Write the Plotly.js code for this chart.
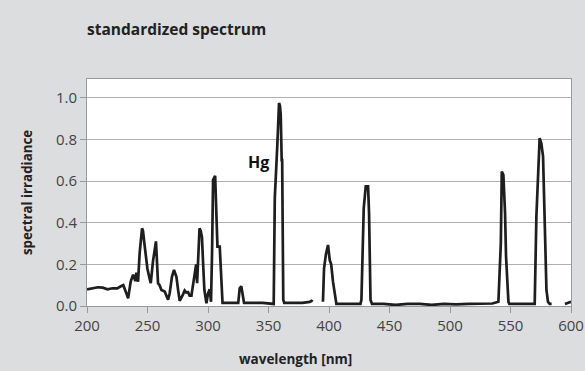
<!DOCTYPE html>
<html>
<head>
<meta charset="utf-8">
<script src="https://cdn.plot.ly/plotly-3.0.1.min.js"></script>
<style>
  html, body { margin: 0; padding: 0; background: #dcdddf; }
  #chart { width: 585px; height: 371px; }
</style>
</head>
<body>
<div id="chart"></div>
<script>
// wavelength [nm]
const wavelength = [
  200, 205, 209, 213, 217, 221, 225, 228, 230, 232.6, 234, 236.1, 238.1, 240, 240.8, 242.2,
  243.5, 245.5, 246.3, 247.1, 248.2, 249.9, 251.8, 252.7, 254.5, 256.5, 257, 257.6, 258.7, 260,
  261.5, 264.2, 267, 268.3, 270.2, 271.9, 273.9, 275.3, 276.6, 279.4, 280.7, 282, 283.5, 284.8,
  286.3, 287.6, 289, 290.2, 291, 292, 293, 294, 295, 296, 297, 298.7, 300, 301.4, 302.5, 303.4,
  304.2, 305.9, 307, 307.8, 309.7, 311.1, 312, 318, 325, 326.2, 327.5, 328.5, 329.8, 335, 345,
  354.3, 355.2, 357.3, 358.7, 359.5, 360.1, 360.9, 361.3, 362.2, 363, 370, 378, 384, 385.5, 386.5,
  390,
  395, 395.9, 397.5, 399.2, 400.6, 401.8, 403.3, 405, 406.1, 415, 426,
  426.8, 427.6, 428.7, 430.4, 432.3, 433.1, 434.3, 435.5, 445, 455, 465, 475, 485, 495, 505,
  515, 525, 535, 540, 540.8, 542, 542.8, 544.1, 545.5, 546.3, 548.3, 549, 558, 565, 570,
  571.4, 572.8, 574.1, 575.5, 576.9, 578.3, 579.7, 581, 582.4, 584,
  590,
  595, 598, 600
];
// spectral irradiance (normalised)
const irradiance = [
  0.08, 0.085, 0.09, 0.088, 0.08, 0.085, 0.085, 0.095, 0.10, 0.06, 0.037, 0.117, 0.15, 0.12, 0.16, 0.117,
  0.253, 0.373, 0.36, 0.317, 0.25, 0.18, 0.13, 0.11, 0.213, 0.30, 0.31, 0.24, 0.109, 0.10,
  0.077, 0.07, 0.03, 0.06, 0.14, 0.173, 0.14, 0.077, 0.025, 0.056, 0.074, 0.065, 0.066, 0.05,
  0.05, 0.10, 0.17, 0.20, 0.11, 0.25, 0.373, 0.36, 0.33, 0.20, 0.077, 0.013, 0.06, 0.08, 0.02, 0.27,
  0.606, 0.625, 0.43, 0.285, 0.285, 0.077, 0.015, 0.015, 0.015, 0.085, 0.095, 0.06, 0.015, 0.015, 0.015,
  0.01, 0.518, 0.774, 0.975, 0.96, 0.918, 0.70, 0.70, 0.03, 0.015, 0.015, 0.015, 0.02, 0.025, 0.02,
  null,
  0.02, 0.18, 0.25, 0.293, 0.22, 0.20, 0.117, 0.04, 0.01, 0.01, 0.01,
  0.03, 0.22, 0.47, 0.574, 0.574, 0.446, 0.03, 0.01, 0.01, 0.005, 0.01, 0.01, 0.005, 0.01, 0.008,
  0.01, 0.01, 0.012, 0.02, 0.109, 0.30, 0.646, 0.63, 0.446, 0.24, 0.02, 0.01, 0.01, 0.01, 0.01,
  0.43, 0.638, 0.806, 0.78, 0.718, 0.40, 0.077, 0.02, 0.01, 0.01,
  null,
  0.01, 0.015, 0.02
];
const xTicks = [200, 250, 300, 350, 400, 450, 500, 550, 600];
const yTicks = [0, 0.2, 0.4, 0.6, 0.8, 1.0];
const yTickLabels = ["0.0", "0.2", "0.4", "0.6", "0.8", "1.0"];

const trace = {
  x: wavelength,
  y: irradiance,
  type: "scatter",
  mode: "lines",
  connectgaps: false,
  line: { color: "#1e1e1e", width: 2.7 },
  hoverinfo: "x+y"
};

const fontFam = "'Open Sans', 'DejaVu Sans', sans-serif";
const layout = {
  width: 585,
  height: 371,
  paper_bgcolor: "#dcdddf",
  plot_bgcolor: "#ffffff",
  margin: { l: 87, r: 14, t: 79, b: 65 },
  showlegend: false,
  title: {
    text: "<b>standardized spectrum</b>",
    font: { family: fontFam, size: 15.5, color: "#222" },
    x: 0, xanchor: "left", xref: "paper",
    y: 1 - 30 / 371, yanchor: "middle", yref: "container"
  },
  xaxis: {
    range: [200, 600],
    tickvals: xTicks,
    ticks: "outside", ticklen: 6, tickcolor: "#999", tickwidth: 1,
    tickfont: { family: fontFam, size: 15, color: "#444" },
    showgrid: false,
    showline: true, linecolor: "#999", linewidth: 1, mirror: true,
    zeroline: false,
    fixedrange: true
  },
  yaxis: {
    range: [0, 1.09],
    tickvals: yTicks,
    ticktext: yTickLabels,
    ticks: "outside", ticklen: 6, tickcolor: "#999", tickwidth: 1,
    tickfont: { family: fontFam, size: 15, color: "#444" },
    showgrid: true, gridcolor: "#b0b0b0", gridwidth: 1,
    showline: true, linecolor: "#999", linewidth: 1, mirror: true,
    zeroline: false,
    title: {
      text: "<b>spectral irradiance</b>",
      font: { family: fontFam, size: 13.3, color: "#222" },
      standoff: 20
    },
    fixedrange: true
  },
  annotations: [
    {
      text: "<b>wavelength [nm]</b>",
      xref: "paper", yref: "paper",
      x: (295 - 87) / (571 - 87), y: -(359 - 306) / (306 - 79),
      xanchor: "center", yanchor: "middle",
      showarrow: false,
      font: { family: fontFam, size: 13.5, color: "#222" }
    },
    {
      text: "<b>Hg</b>",
      xref: "x", yref: "y",
      x: 342, y: 0.69,
      xanchor: "center", yanchor: "middle",
      showarrow: false,
      font: { family: fontFam, size: 16, color: "#111" }
    }
  ]
};

Plotly.newPlot("chart", [trace], layout, { displayModeBar: false, staticPlot: true });
</script>
</body>
</html>
